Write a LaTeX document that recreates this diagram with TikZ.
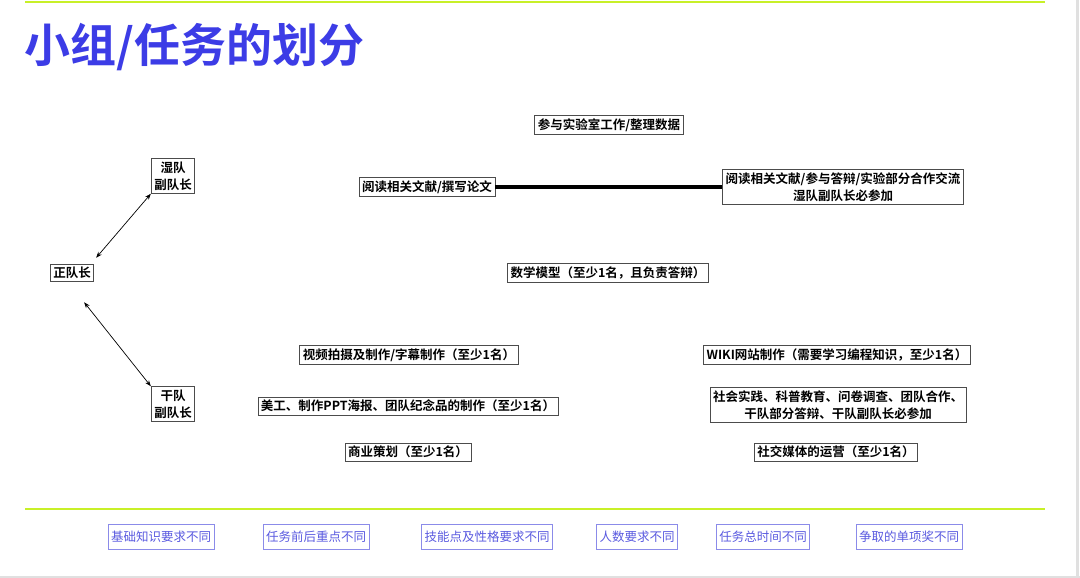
\documentclass[tikz,border=0pt]{standalone}
\usepackage{fontspec}
\setmainfont{Noto Sans CJK SC}
\newfontfamily\cjkbold{Noto Sans CJK SC Bold}
\usetikzlibrary{arrows.meta}
\definecolor{titleblue}{HTML}{3C3CE6}
\definecolor{lime}{HTML}{C8F028}
\definecolor{tagblue}{HTML}{5A5AE0}
\tikzset{
  task/.style={draw=black!70, line width=0.8pt, fill=white, inner sep=3pt, align=center,
    font=\fontsize{12.5}{17}\cjkbold},
  tag/.style={draw=tagblue!70, line width=0.8pt, inner sep=3pt, minimum height=25pt,
    text=tagblue, font=\fontsize{12.5}{15}\selectfont},
  link/.style={{Stealth[length=6pt]}-{Stealth[length=6pt]}, line width=0.7pt}
}
\begin{document}
\begin{tikzpicture}[x=1pt,y=-1pt]
\useasboundingbox (0,0) rectangle (1080,578);
\fill[white] (0,0) rectangle (1080,578);
\draw[black!12, line width=3pt] (1077,0) -- (1077,578);
\draw[black!12, line width=3pt] (0,577) -- (1080,577);
% green rules
\draw[lime, line width=2.5pt] (25,2) -- (1045,2);
\draw[lime, line width=1.5pt] (25,509) -- (1045,509);
% title
\node[anchor=west, text=titleblue, font=\fontsize{46}{50}\cjkbold, inner sep=0pt] (title) at (24,47) {小组/任务的划分};

% team
\node[task] (cap) at (72,273) {正队长};
\node[task] (wet) at (173,176) {湿队\\副队长};
\node[task] (dry) at (173,404) {干队\\副队长};
\draw[link] (cap.north east) ++(2,-6) coordinate (c1) -- (wet.south west) ;
\draw[link] (cap.south east) ++(-10,20) coordinate (c2) -- (dry.north west);

% wet tasks
\node[task] (lab) at (609,125) {参与实验室工作/整理数据};
\node[task] (read) at (427,187) {阅读相关文献/撰写论文};
\node[task] (discuss) at (843,187) {阅读相关文献/参与答辩/实验部分合作交流\\湿队副队长必参加};
\draw[line width=4pt] (read) -- (discuss);
\node[task] (math) at (608,273) {数学模型（至少1名，且负责答辩）};

% dry tasks
\node[task] (video) at (409,355) {视频拍摄及制作/字幕制作（至少1名）};
\node[task] (wiki) at (837,355) {WIKI网站制作（需要学习编程知识，至少1名）};
\node[task] (art) at (408,406) {美工、制作PPT海报、团队纪念品的制作（至少1名）};
\node[task] (social) at (838,405) {社会实践、科普教育、问卷调查、团队合作、\\干队部分答辩、干队副队长必参加};
\node[task] (biz) at (408,452) {商业策划（至少1名）};
\node[task] (media) at (836,452) {社交媒体的运营（至少1名）};

% differences
\node[tag] (d1) at (161,537) {基础知识要求不同};
\node[tag] (d2) at (316,537) {任务前后重点不同};
\node[tag] (d3) at (487,537) {技能点及性格要求不同};
\node[tag] (d4) at (637,537) {人数要求不同};
\node[tag] (d5) at (763,537) {任务总时间不同};
\node[tag] (d6) at (909,537) {争取的单项奖不同};
\end{tikzpicture}
\end{document}
